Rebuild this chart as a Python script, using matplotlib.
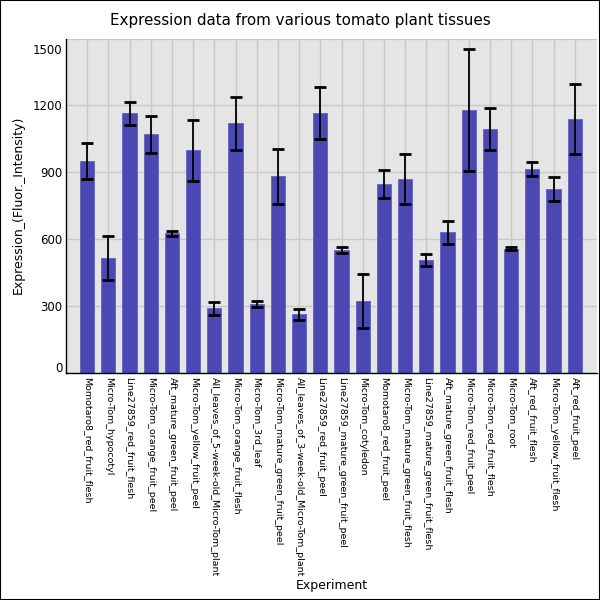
import numpy as np
import matplotlib
matplotlib.use('Agg')
import matplotlib.pyplot as plt
from matplotlib.patches import Rectangle
from matplotlib.transforms import ScaledTranslation

tissues = ['Momotaro8_red_fruit_flesh', 'Micro-Tom_hypocotyl', 'Line27859_red_fruit_flesh',
           'Micro-Tom_orange_fruit_peel', 'Aft_mature_green_fruit_peel', 'Micro-Tom_yellow_fruit_peel',
           'All_leaves_of_5-week-old_Micro-Tom_plant', 'Micro-Tom_orange_fruit_flesh', 'Micro-Tom_3rd_leaf',
           'Micro-Tom_mature_green_fruit_peel', 'All_leaves_of_3-week-old_Micro-Tom_plant',
           'Line27859_red_fruit_peel', 'Line27859_mature_green_fruit_peel', 'Micro-Tom_cotyledon',
           'Momotaro8_red_fruit_peel', 'Micro-Tom_mature_green_fruit_flesh',
           'Line27859_mature_green_fruit_flesh', 'Aft_mature_green_fruit_flesh', 'Micro-Tom_red_fruit_peel',
           'Micro-Tom_red_fruit_flesh', 'Micro-Tom_root', 'Aft_red_fruit_flesh',
           'Micro-Tom_yellow_fruit_flesh', 'Aft_red_fruit_peel']
expression = [950, 515, 1165, 1071, 627, 999, 290, 1120, 311, 882, 263, 1165,
              550, 322, 847, 869, 506, 631, 1179, 1093, 558, 914, 824, 1138]
error = [80, 98, 52, 83, 12, 137, 28, 118, 14, 122, 24, 116,
         14, 120, 62, 112, 27, 52, 272, 95, 8, 30, 53, 158]
yticks = [0, 300, 600, 900, 1200, 1500]

fig = plt.figure(figsize=(6, 6), dpi=100)
ax = fig.add_axes([66 / 600, 1 - 373 / 600, 531 / 600, 334.5 / 600])
ax.set_facecolor('#e5e5e5')

x = np.arange(len(tissues))
ax.bar(x, expression, width=0.67, color='#4b48b4', edgecolor='#6461c0', linewidth=0.6, zorder=2)
ax.errorbar(x, expression, yerr=error, fmt='none', ecolor='black', elinewidth=1.3,
            capsize=4.5, capthick=2, zorder=3)

ax.set_xlim(-1, 24.05)
ax.set_ylim(0, 1500)
ax.set_yticks(yticks)
ax.set_xticks(x)
ax.set_xticklabels(tissues, rotation=-90, fontsize=6.8, va='top', ha='center')
ax.tick_params(axis='x', length=0, pad=3)
ax.tick_params(axis='y', length=0, pad=2.5, labelsize=8.5)

# end labels pulled inside the axis range, like the original
lbls = ax.get_yticklabels()
lbls[0].set_transform(lbls[0].get_transform() + ScaledTranslation(0, 6 / 100, fig.dpi_scale_trans))
lbls[-1].set_transform(lbls[-1].get_transform() + ScaledTranslation(0, -10 / 100, fig.dpi_scale_trans))

ax.grid(True, color='#c8c8c8', linewidth=1, zorder=0)
ax.set_axisbelow(True)
for s in ['top', 'right']:
    ax.spines[s].set_visible(False)
for s in ['left', 'bottom']:
    ax.spines[s].set_color('black')
    ax.spines[s].set_linewidth(1)

fig.text(0.5, 1 - 20 / 600, 'Expression data from various tomato plant tissues',
         ha='center', va='center', fontsize=10.9)
fig.text(331.5 / 600, 1 - 585 / 600, 'Experiment', ha='center', va='center', fontsize=9)
fig.text(18 / 600, 1 - 205 / 600, 'Expression_(Fluor._Intensity)', ha='center', va='center',
         rotation=90, fontsize=9)

fig.patches.append(Rectangle((0, 0), 1, 1, transform=fig.transFigure, fill=False,
                             edgecolor='black', linewidth=1.5))

fig.savefig('out.png', dpi=100)
